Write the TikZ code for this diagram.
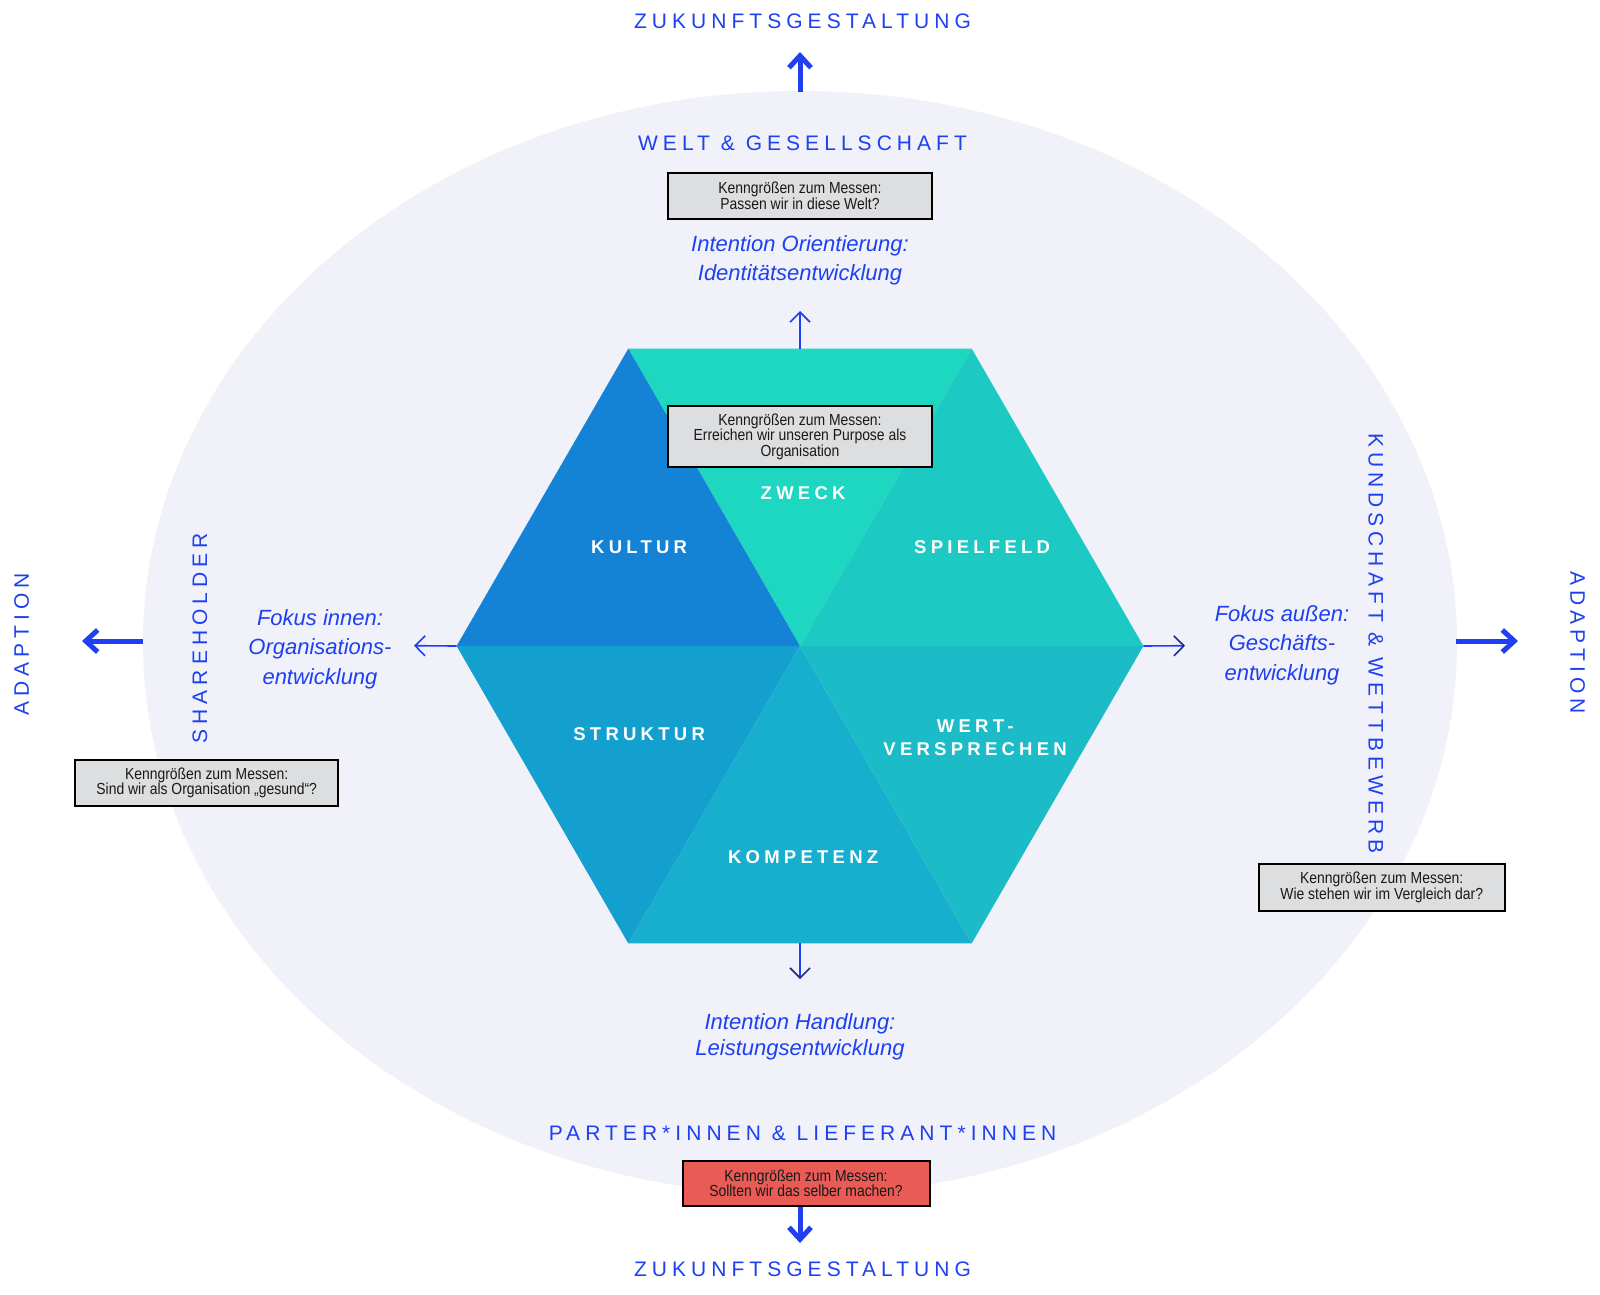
\documentclass[tikz,border=0pt]{standalone}
\usepackage{fontspec}
\setmainfont{Liberation Sans}
\newfontfamily\capsfont[LetterSpace=24]{Liberation Sans}
\newfontfamily\hexfont[LetterSpace=23]{Liberation Sans}
\newfontfamily\boxfont[FakeStretch=0.87]{Liberation Sans}
\usetikzlibrary{arrows.meta}
\definecolor{ublue}{HTML}{1E40F0}
\definecolor{navyh}{HTML}{1E2F8C}
\definecolor{ellfill}{HTML}{F0F1F9}
\definecolor{boxgray}{HTML}{DDDEE0}
\definecolor{boxred}{HTML}{EA5B55}
\definecolor{cZweck}{HTML}{1ED7C0}
\definecolor{cKultur}{HTML}{1483D5}
\definecolor{cSpiel}{HTML}{1CCAC3}
\definecolor{cStruk}{HTML}{14A0CF}
\definecolor{cKomp}{HTML}{17AFCD}
\definecolor{cWert}{HTML}{1BBCC7}
\begin{document}
\lineskiplimit=-100pt
\begin{tikzpicture}[x=1pt,y=-1pt,
  caps/.style={text=ublue, font=\capsfont\fontsize{21}{25}\selectfont, inner sep=0pt},
  ital/.style={text=ublue, font=\itshape\fontsize{22}{29.5}\selectfont, align=center, inner sep=0pt},
  hexlab/.style={text=white, font=\hexfont\bfseries\fontsize{18.5}{22.5}\selectfont, align=center, inner sep=0pt},
  kbox/.style={draw=black, line width=2pt, fill=boxgray, text=black!90, font=\boxfont\fontsize{16}{15.5}\selectfont, align=center, inner sep=0pt},
  bigarrow/.style={draw=ublue, line width=5pt, -{Straight Barb[length=12pt,width=22pt]}},
  thinarrow/.style={draw=ublue, line width=1.6pt, -{Straight Barb[length=10pt,width=20pt]}},
  thinarrown/.style={draw=ublue, line width=1.6pt, -{Straight Barb[length=10pt,width=20pt,color=navyh]}},
]
\useasboundingbox (0,0) rectangle (1600,1294);
\fill[white] (0,0) rectangle (1600,1294);
% background ellipse
\fill[ellfill] (800,643) ellipse [x radius=657, y radius=552];
% hexagon
\coordinate (C) at (800,646);
\coordinate (HL) at (456.6,646);
\coordinate (HR) at (1143.4,646);
\coordinate (HTL) at (628.3,348.6);
\coordinate (HTR) at (971.7,348.6);
\coordinate (HBL) at (628.3,943.4);
\coordinate (HBR) at (971.7,943.4);
\coordinate (HT) at (800,348.6);
\coordinate (HB) at (800,943.4);
\fill[cZweck] (HTL) -- (HTR) -- (C) -- cycle;
\fill[cKultur] (HTL) -- (HL) -- (C) -- cycle;
\fill[cSpiel] (HTR) -- (HR) -- (C) -- cycle;
\fill[cStruk] (HL) -- (HBL) -- (C) -- cycle;
\fill[cKomp] (HBL) -- (HBR) -- (C) -- cycle;
\fill[cWert] (HR) -- (HBR) -- (C) -- cycle;
% hexagon labels
\node[hexlab] (zweck) at (801,493) {ZWECK\kern-.23em};
\node[hexlab] (kultur) at (637,547) {KULTUR\kern-.23em};
\node[hexlab] (spiel) at (980,547) {SPIELFELD\kern-.23em};
\node[hexlab] (struk) at (637,734.5) {STRUKTUR\kern-.23em};
\node[hexlab] (wert) at (973,737.5) {WERT-\kern-.23em\\VERSPRECHEN\kern-.23em};
\node[hexlab] (komp) at (801,857) {KOMPETENZ\kern-.23em};
% thin arrows
\coordinate (tT) at (800,311);
\coordinate (tB) at (800,979);
\coordinate (tL) at (414,645.7);
\coordinate (tR) at (1185,645.7);
\draw[thinarrow] (HT) -- (tT);
\draw[thinarrown] (HB) -- (tB);
\draw[thinarrow] (HL) -- (tL);
\draw[thinarrown] (HR) -- (tR);
% boxes
\node[kbox, minimum width=264.6pt, minimum height=46.3pt] (box1) at (800,196) {Kenngrößen zum Messen:\\Passen wir in diese Welt?};
\node[kbox, minimum width=264.6pt, minimum height=61.3pt] (box2) at (800,436.7) {Kenngrößen zum Messen:\\Erreichen wir unseren Purpose als\\Organisation};
\node[kbox, minimum width=263.3pt, minimum height=45.4pt] (box3) at (206.7,783) {Kenngrößen zum Messen:\\Sind wir als Organisation „gesund“?};
\node[kbox, minimum width=246pt, minimum height=46.4pt] (box4) at (1381.7,887.5) {Kenngrößen zum Messen:\\Wie stehen wir im Vergleich dar?};
\node[kbox, fill=boxred, minimum width=247pt, minimum height=45pt] (box5) at (806,1183.5) {Kenngrößen zum Messen:\\Sollten wir das selber machen?};
% caps labels
\node[caps] (zukT) at (800,21) {ZUKUNFTSGESTALTUNG\kern-.24em};
\node[caps] (welt) at (800,143) {WELT \& GESELLSCHAFT\kern-.24em};
\node[caps] (parter) at (800,1133) {PARTER*INNEN \& LIEFERANT*INNEN\kern-.24em};
\node[caps] (zukB) at (800,1269.5) {ZUKUNFTSGESTALTUNG\kern-.24em};
\node[caps, rotate=90] (adL) at (21.7,646.7) {ADAPTION\kern-.24em};
\node[caps, rotate=90] (share) at (200,640.8) {SHAREHOLDER\kern-.24em};
\node[caps, rotate=-90] (kund) at (1375.8,640.8) {KUNDSCHAFT \& WETTBEWERB\kern-.24em};
\node[caps, rotate=-90] (adR) at (1577.5,640.3) {ADAPTION\kern-.24em};
% italic labels
\node[ital] (intO) at (800,260.5) {Intention Orientierung:\\Identitätsentwicklung};
\node[ital, font=\itshape\fontsize{22}{25.5}\selectfont] (intH) at (800,1037) {Intention Handlung:\\Leistungsentwicklung};
\node[ital] (fokI) at (320,649) {Fokus innen:\\Organisations-\\entwicklung};
\node[ital] (fokA) at (1282,645) {Fokus außen:\\Geschäfts-\\entwicklung};
% thick arrows
\coordinate (eT) at (800,92);
\coordinate (aT) at (800,52);
\coordinate (eL) at (143,641);
\coordinate (aL) at (82,641);
\coordinate (eR) at (1456,641);
\coordinate (aR) at (1518,641);
\coordinate (aB) at (800,1243);
\draw[bigarrow] (eT) -- (aT);
\draw[bigarrow] (eL) -- (aL);
\draw[bigarrow] (eR) -- (aR);
\draw[bigarrow] (box5.south -| aB) -- (aB);
\end{tikzpicture}
\end{document}
